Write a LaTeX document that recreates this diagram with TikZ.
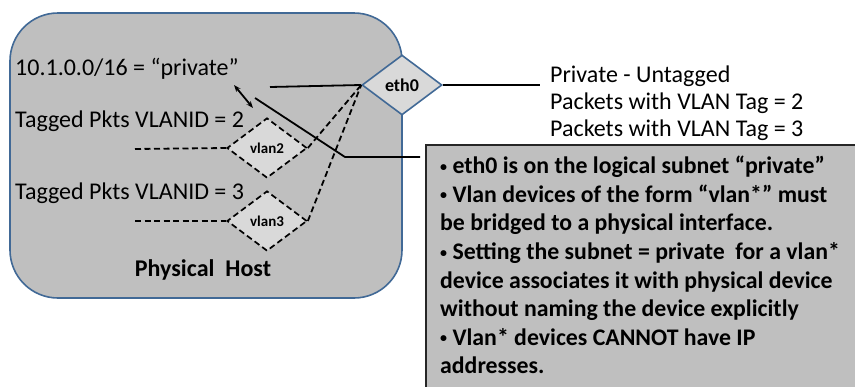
\documentclass[tikz,border=0pt]{standalone}
\usepackage{fontspec}
\setmainfont{Carlito}
\usetikzlibrary{positioning, arrows.meta, shapes.geometric, calc}
\definecolor{HostColor}{RGB}{191,191,191}
\definecolor{EdgeColor}{RGB}{65,105,150}
\definecolor{PortColor}{RGB}{217,217,217}
\definecolor{NoteColor}{RGB}{191,191,191}
\newcommand{\dotitem}{\raisebox{2.5pt}{\fontsize{14}{14}\selectfont •}\ }
\tikzset{
  host/.style={draw=EdgeColor, line width=1.6pt, fill=HostColor, rounded corners=48pt},
  port/.style={diamond, draw=EdgeColor, line width=1.6pt, fill=PortColor, minimum width=80pt, minimum height=60pt, inner sep=0pt, font=\fontsize{18}{20}\selectfont\bfseries},
  vport/.style={diamond, draw=black, dash pattern=on 6pt off 3.5pt, line width=1.7pt, fill=PortColor, minimum width=80pt, minimum height=60pt, inner sep=0pt, font=\fontsize{15}{17}\selectfont\bfseries},
  hosttext/.style={inner sep=0pt, font=\fontsize{24}{27}\selectfont},
  link/.style={line width=1.8pt, black},
  vlink/.style={link, dash pattern=on 6pt off 3.5pt},
  notebox/.style={draw=black!85, line width=2pt, fill=NoteColor},
  notetext/.style={align=left, inner sep=0pt, font=\fontsize{23.8}{28.6}\selectfont\bfseries}
}
\begin{document}
\begin{tikzpicture}[x=1pt, y=-1pt]
  \useasboundingbox (0,0) rectangle (855,386);

  % Physical host
  \draw[host] (10,13) rectangle (402,298);

  % Interfaces
  \node[port] (eth0) at (402,85) {eth0};
  \node[vport] (vlan2) at (267,148) {vlan2};
  \node[vport] (vlan3) at (267,221) {vlan3};

  % Host texts
  \node[hosttext, anchor=base west] (subnet) at (15,75) {10.1.0.0/16 = “private”};
  \node[hosttext, anchor=base west] (tag2) at (15,127) {Tagged Pkts VLANID = 2};
  \node[hosttext, anchor=base west] (tag3) at (15,199) {Tagged Pkts VLANID = 3};
  \node[hosttext, anchor=base, font=\fontsize{24}{27}\selectfont\bfseries] (hostname) at (203,276) {Physical\ \ Host};

  % Wire traffic
  \node[hosttext, anchor=north west, align=left, font=\fontsize{24}{26.8}\selectfont] (traffic) at (550,66) {Private - Untagged\\Packets with VLAN Tag = 2\\Packets with VLAN Tag = 3};

  % Links
  \coordinate (wire) at (540,85);
  \coordinate (stub) at (270,87);
  \coordinate (trunk2) at (135,149);
  \coordinate (trunk3) at (135,221);
  \draw[link] (eth0.east) -- (wire);
  \draw[link] (stub) -- (eth0.west);
  \draw[vlink] (trunk2) -- (vlan2.west);
  \draw[vlink] (trunk3) -- (vlan3.west);
  \draw[vlink] (vlan2.east) -- (eth0.west);
  \draw[vlink] (vlan3.east) -- (eth0.west);

  % Notes
  \draw[notebox] (426,145) rectangle (880,410);
  \node[notetext, anchor=north west] (notes) at (440,156) {\dotitem eth0 is on the logical subnet “private”\\
    \dotitem Vlan devices of the form “vlan*” must\\
    be bridged to a physical interface.\\
    \dotitem Setting the subnet = private\ \ for a vlan*\\
    device associates it with physical device\\
    without naming the device explicitly\\
    \dotitem Vlan* devices CANNOT have IP\\
    addresses.};

  % Callout and address arrow
  \coordinate (ipA) at (234,85);
  \coordinate (ipB) at (253,108);
  \coordinate (callA) at (255,98);
  \coordinate (callB) at (345,157);
  \coordinate (callC) at (420,157);
  \draw[link, {Stealth[length=7pt]}-{Stealth[length=7pt]}] (ipA) -- (ipB);
  \draw[link] (callA) -- (callB) -- (callC);
\end{tikzpicture}
\end{document}
